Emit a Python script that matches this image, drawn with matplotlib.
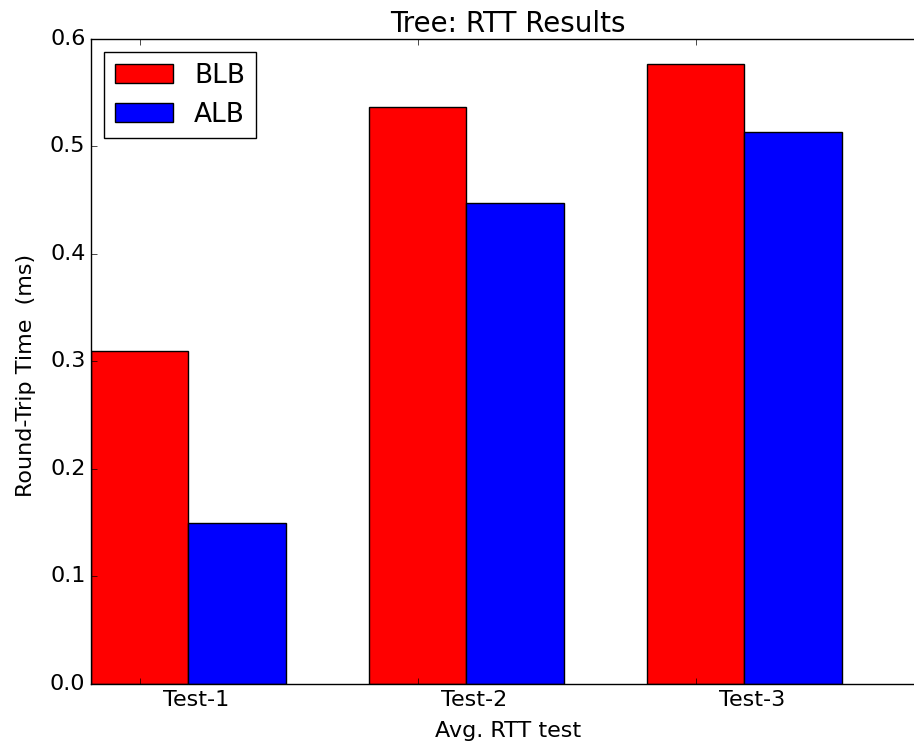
import matplotlib
matplotlib.use('Agg')
import matplotlib.pyplot as plt
import matplotlib.transforms as mtransforms
import numpy as np

plt.style.use('classic')

tests = ['Test-1', 'Test-2', 'Test-3']
blb = [0.31, 0.537, 0.577]
alb = [0.15, 0.447, 0.513]

index = np.arange(len(tests))
width = 0.35

fig = plt.figure(figsize=(9.14, 7.49), dpi=100)
# right edge of the axes runs past the figure, like the cropped original
ax = fig.add_axes([0.0996, 0.0868, 0.9125, 0.8612])

ax.bar(index, blb, width, color='r', label='BLB', align='edge')
ax.bar(index + width, alb, width, color='b', label='ALB', align='edge')

ax.set_xlim(0, 3)
ax.set_ylim(0, 0.6)
ax.set_xticks(index + width / 2)
ax.set_xticklabels(tests)
ax.tick_params(labelsize=16)
# labels sit to the right of the tick marks in the original
shift = mtransforms.ScaledTranslation(0.56, 0, fig.dpi_scale_trans)
for lbl in ax.get_xticklabels():
    lbl.set_transform(lbl.get_transform() + shift)

ax.set_xlabel('Avg. RTT test', fontsize=16, labelpad=8)
ax.set_ylabel('Round-Trip Time  (ms)', fontsize=16)
ax.yaxis.set_label_coords(-0.066, 0.478)
ax.set_title('Tree: RTT Results', fontsize=20, y=1.0)
ax.legend(loc='upper left', fontsize=19, handlelength=2.2)

fig.savefig('out.png', dpi=100)
